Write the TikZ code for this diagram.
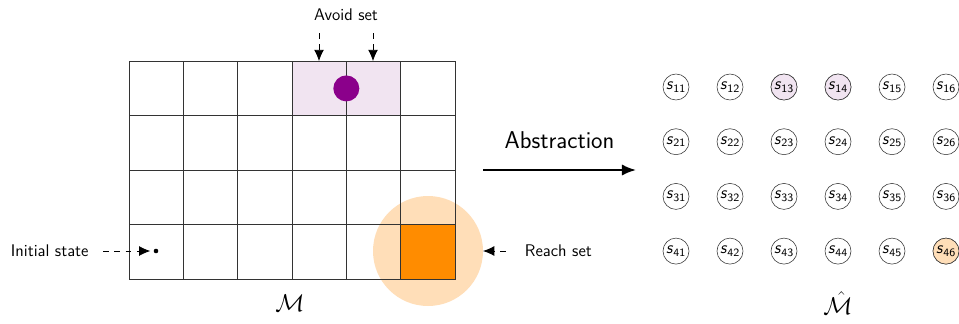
\documentclass[tikz,border=0pt]{standalone}
\usepackage{amsmath, amssymb}
\usepackage{xcolor}
\usepackage{tikz}
\usetikzlibrary{arrows.meta, positioning}
\definecolor{AvoidPurple}{RGB}{139,0,139}
\definecolor{AvoidLight}{RGB}{241,228,241}
\definecolor{ReachOrange}{RGB}{255,140,0}
\definecolor{ReachLight}{RGB}{255,222,184}
\tikzset{
  >=Latex,
  % celle della griglia
  cell/.style={draw=black!80,minimum size=1.358cm,inner sep=0,outer sep=0},
  cell avoid/.style={cell,fill=AvoidLight},
  cell reach/.style={cell,fill=ReachOrange},
  % stati astratti
  state/.style={circle,draw=black!80,minimum size=0.65cm,inner sep=0,font=\large\sffamily},
  state avoid/.style={state,fill=AvoidLight},
  state reach/.style={state,fill=ReachLight},
  % frecce
  hint arrow/.style={dashed,dash pattern=on 4pt off 4pt,semithick,
    -{Latex[length=8pt,width=7pt]}},
  label/.style={font=\large\sffamily}
}
\newcommand{\stlab}[2]{\textit{s}\textsubscript{#1#2}}

\begin{document}
\begin{tikzpicture}[x=0.025cm,y=-0.025cm,font=\sffamily]
    \useasboundingbox (0,0) rectangle (959,323);
    % alone del reach set
    \fill[ReachLight] (428,251) circle (55);
    % griglia del modello
    \foreach \i in {1,...,4}{
      \foreach \j in {1,...,6}{
        \node[cell] (c\i\j) at ({129+54.33*(\j-0.5)},{61+54.5*(\i-0.5)}) {};
      }
    }
    \node[cell avoid] at (c14) {};
    \node[cell avoid] at (c15) {};
    \node[cell reach] at (c46) {};
    \draw[draw=black!80] (c11.north west) rectangle (c46.south east);
    \draw[draw=black!80] (c15.north west) -- (c45.south west);
    \fill[AvoidPurple] (c14.south east) ++(0,-27) circle (13);
    % etichette
    \node[label] (avoid) at (346,15) {Avoid set};
    \coordinate (a1) at (319,33);
    \coordinate (a2) at (373,33);
    \draw[hint arrow] (a1) -- (a1 |- c14.north);
    \draw[hint arrow] (a2) -- (a2 |- c15.north);
    \node[label,anchor=west] (init) at (6,251) {Initial state};
    \fill (156,251) circle (2.3) coordinate (s0);
    \draw[hint arrow] (103,251) coordinate (i0) -- ([xshift=-4]s0);
    \node[label,anchor=west] (reach) at (520,251) {Reach set};
    \draw[hint arrow] ([xshift=-10]reach.west) -- (483,251);
    \node[font=\LARGE] (M) at (290,303) {$\mathcal{M}$};
    % astrazione
    \coordinate (abs0) at (483,170);
    \coordinate (abs1) at (636,170);
    \draw[line width=1.5pt,-{Latex[length=10pt,width=8pt]}] (abs0) -- (abs1)
      node[midway,above=11pt,font=\LARGE\sffamily] (abstr) {Abstraction};
    % stati astratti
    \foreach \i in {1,...,4}{
      \foreach \j in {1,...,6}{
        \node[state] (s\i\j) at ({676+54*(\j-1)},{87+54.7*(\i-1)}) {\stlab{\i}{\j}};
      }
    }
    \node[state avoid] at (s13) {\stlab{1}{3}};
    \node[state avoid] at (s14) {\stlab{1}{4}};
    \node[state reach] at (s46) {\stlab{4}{6}};
    \node[font=\LARGE] (Mhat) at (838,303) {$\hat{\mathcal{M}}$};
  \end{tikzpicture}
\end{document}
